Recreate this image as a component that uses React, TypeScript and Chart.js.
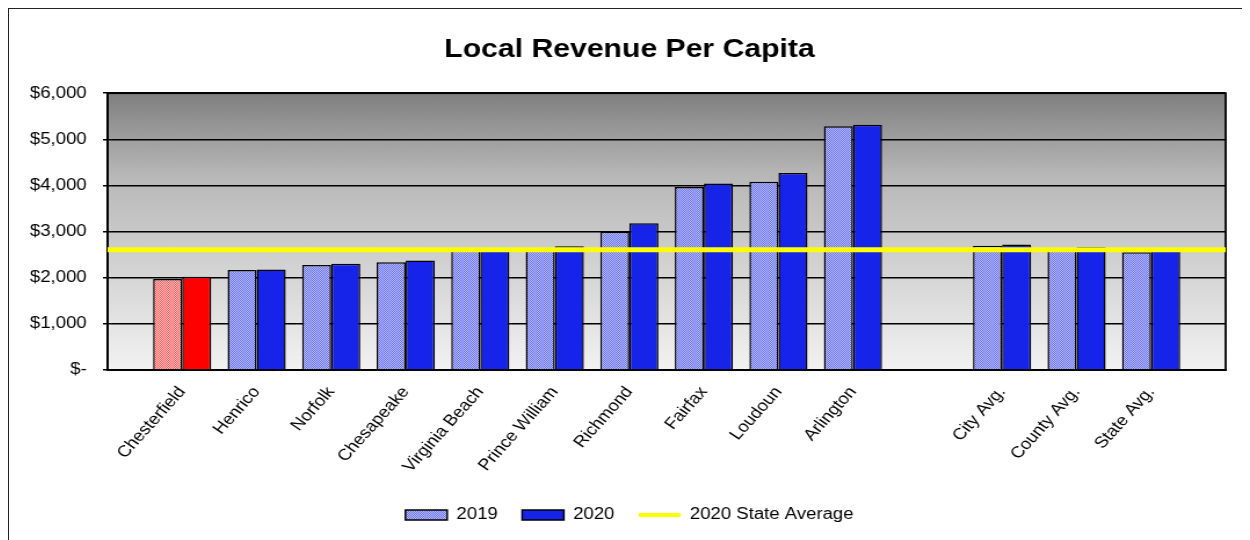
import React, { useEffect, useRef } from "react";
import { Chart, registerables } from "chart.js";

Chart.register(...registerables);

const TITLE = "Local Revenue Per Capita";
const LOCALITIES = ["Chesterfield", "Henrico", "Norfolk", "Chesapeake", "Virginia Beach", "Prince William", "Richmond", "Fairfax", "Loudoun", "Arlington"];
const LOCAL_2019 = [1970, 2165, 2275, 2335, 2585, 2595, 2995, 3965, 4080, 5285];
const LOCAL_2020 = [2020, 2180, 2305, 2375, 2595, 2680, 3180, 4045, 4270, 5315];
const AVERAGES = ["City Avg.", "County Avg.", "State Avg."];
const AVG_2019 = [2695, 2640, 2550];
const AVG_2020 = [2720, 2665, 2606];
const STATE_AVERAGE_2020 = 2606;
const Y_TICKS = [0, 1000, 2000, 3000, 4000, 5000, 6000];
const SERIES_NAMES = ["2019", "2020", "2020 State Average"];

const FONT = "'Liberation Sans', Arial, sans-serif";
const BLUE = "#1623E8";
const RED = "#FF0000";
const YELLOW = "#FFFF00";
const STRETCH = 1.16;
const CSS_W = 1241;
const CSS_H = 531;
const CANVAS_W = Math.round(CSS_W / STRETCH);

function makePattern(dark: string, light: string): CanvasPattern | string {
  const c = document.createElement("canvas");
  c.width = 2;
  c.height = 2;
  const g = c.getContext("2d");
  if (!g) return dark;
  g.fillStyle = light;
  g.fillRect(0, 0, 2, 2);
  g.fillStyle = dark;
  g.fillRect(0, 0, 1, 1);
  g.fillRect(1, 1, 1, 1);
  const ctx = document.createElement("canvas").getContext("2d");
  return (ctx && ctx.createPattern(c, "repeat")) || dark;
}

export default function App() {
  const ref = useRef<HTMLCanvasElement | null>(null);

  useEffect(() => {
    if (!ref.current) return;
    const bluePattern = makePattern("#6a73ee", "#b8bdf8");
    const redPattern = makePattern("#f25c5c", "#ffc4c4");

    const labels = ["", ...LOCALITIES, "", ...AVERAGES, ""];
    const d2019 = [null, ...LOCAL_2019, null, ...AVG_2019, null];
    const d2020 = [null, ...LOCAL_2020, null, ...AVG_2020, null];
    const dLine = labels.map(() => STATE_AVERAGE_2020);
    const redIndex = 1;

    const bgPlugin = {
      id: "plotBg",
      beforeDraw(chart: any) {
        const { ctx, chartArea: a } = chart;
        const gr = ctx.createLinearGradient(0, a.top, 0, a.bottom);
        gr.addColorStop(0, "#7f7f7f");
        gr.addColorStop(0.3, "#b8b8b8");
        gr.addColorStop(0.5, "#c8c8c8");
        gr.addColorStop(1, "#f2f2f2");
        ctx.save();
        ctx.fillStyle = gr;
        ctx.fillRect(a.left, a.top, a.right - a.left, a.bottom - a.top);
        ctx.restore();
      },
      beforeDatasetsDraw(chart: any) {
        const { ctx, chartArea: a } = chart;
        ctx.save();
        ctx.strokeStyle = "#000";
        ctx.lineWidth = 1.8;
        ctx.strokeRect(a.left, a.top, a.right - a.left, a.bottom - a.top);
        ctx.restore();
      },
    };

    const chart = new Chart(ref.current, {
      type: "bar",
      data: {
        labels,
        datasets: [
          {
            type: "line",
            label: SERIES_NAMES[2],
            data: dLine,
            borderColor: YELLOW,
            backgroundColor: YELLOW,
            borderWidth: 5,
            pointRadius: 0,
            order: 0,
          } as any,
          {
            label: SERIES_NAMES[0],
            data: d2019,
            backgroundColor: (c: any) => (c.dataIndex === redIndex ? redPattern : bluePattern),
            borderColor: "#000",
            borderWidth: 1.5,
            order: 1,
          },
          {
            label: SERIES_NAMES[1],
            data: d2020,
            backgroundColor: (c: any) => (c.dataIndex === redIndex ? RED : BLUE),
            borderColor: "#000",
            borderWidth: 1.5,
            order: 1,
          },
        ],
      },
      options: {
        animation: false,
        responsive: false,
        devicePixelRatio: 1,
        layout: { padding: { left: 0, right: 0, top: 0, bottom: 7 } },
        datasets: { bar: { categoryPercentage: 0.78, barPercentage: 1 } },
        plugins: {
          title: {
            display: true,
            text: TITLE,
            color: "#000",
            font: { family: FONT, size: 26, weight: "bold" },
            padding: { top: 25, bottom: 28 },
          },
          tooltip: { enabled: false },
          legend: {
            position: "bottom",
            labels: {
              color: "#000",
              font: { family: FONT, size: 16 },
              usePointStyle: true,
              pointStyleWidth: 36,
              boxWidth: 36,
              boxHeight: 10,
              padding: 21,
              generateLabels: () => [
                { text: SERIES_NAMES[0], fillStyle: bluePattern as any, strokeStyle: "#000", lineWidth: 1.5, pointStyle: "rect", datasetIndex: 1, hidden: false, fontColor: "#000" },
                { text: SERIES_NAMES[1], fillStyle: BLUE, strokeStyle: "#000", lineWidth: 1.5, pointStyle: "rect", datasetIndex: 2, hidden: false, fontColor: "#000" },
                { text: SERIES_NAMES[2], fillStyle: YELLOW, strokeStyle: YELLOW, lineWidth: 4, pointStyle: "line", datasetIndex: 0, hidden: false, fontColor: "#000" },
              ],
            },
          },
        },
        scales: {
          x: {
            offset: false,
            grid: { display: false, drawTicks: false },
            border: { display: true, color: "#000", width: 1.8 },
            ticks: {
              autoSkip: false,
              minRotation: 52,
              maxRotation: 52,
              padding: 13,
              color: "#000",
              font: { family: FONT, size: 16 },
            },
            afterFit: (s: any) => {
              s.height = 116;
              s.paddingLeft = 0;
              s.paddingRight = 0;
            },
          },
          y: {
            min: 0,
            max: 6000,
            afterBuildTicks: (s: any) => {
              s.ticks = Y_TICKS.map((v) => ({ value: v }));
            },
            grid: { color: "#000", lineWidth: 1.5, tickLength: 4, drawTicks: true },
            border: { display: true, color: "#000", width: 1.8 },
            ticks: {
              padding: 14,
              color: "#000",
              font: { family: FONT, size: 16 },
              callback: (v: any) => (Number(v) === 0 ? "$-" : "$" + Number(v).toLocaleString("en-US")),
            },
            afterFit: (s: any) => {
              s.width = 85;
            },
          },
          r: {
            position: "right",
            display: true,
            grid: { display: false, drawTicks: false },
            border: { display: false },
            ticks: { display: false },
            afterFit: (s: any) => {
              s.width = 21;
            },
          },
        },
      },
      plugins: [bgPlugin],
    });
    return () => chart.destroy();
  }, []);

  return (
    <div
      style={{
        borderLeft: "1px solid #222",
        borderTop: "1px solid #222",
        width: CSS_W,
        height: CSS_H,
        overflow: "hidden",
        background: "#fff",
      }}
    >
      <canvas
        ref={ref}
        width={CANVAS_W}
        height={CSS_H}
        style={{ width: CSS_W + "px", height: CSS_H + "px", display: "block" }}
      />
    </div>
  );
}
